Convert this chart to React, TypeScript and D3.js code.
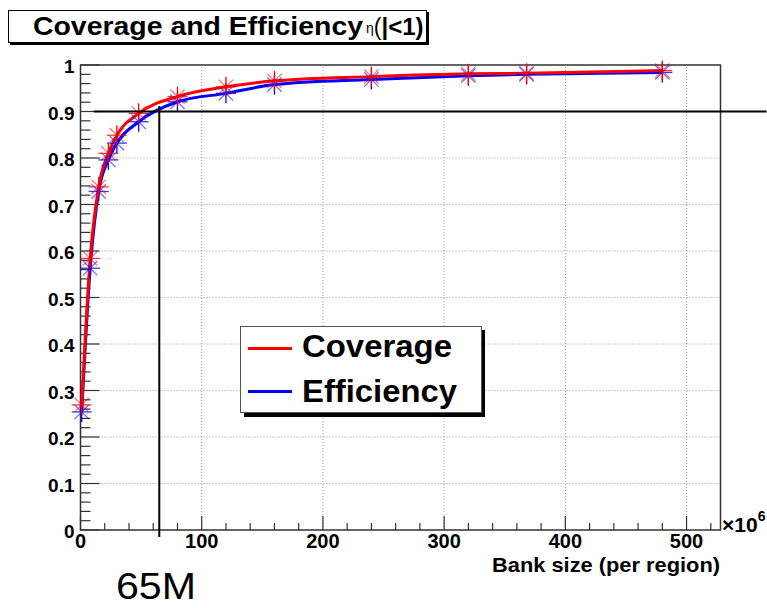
import * as d3 from "d3";

// bank size (x 10^6 patterns per region)
const bankSizes = [1, 8, 15, 23, 30, 48, 80, 120, 160, 240, 320, 368, 480];
const coverage = [0.269, 0.584, 0.738, 0.81, 0.849, 0.896, 0.932, 0.953, 0.966, 0.975, 0.981, 0.982, 0.988];
const efficiency = [0.254, 0.563, 0.728, 0.796, 0.832, 0.878, 0.921, 0.939, 0.958, 0.969, 0.977, 0.98, 0.984];

const xTicks = [0, 100, 200, 300, 400, 500];
const yTicks = [0, 0.1, 0.2, 0.3, 0.4, 0.5, 0.6, 0.7, 0.8, 0.9, 1];
const legendItems = [
  { label: "Coverage", color: "#ff0000" },
  { label: "Efficiency", color: "#0000ff" },
];

// 65M working point markers
const cutX = 65;
const cutY = 0.9;

const W = 767;
const H = 608;
const FONT = "'Liberation Sans', Arial, Helvetica, sans-serif";

const x = d3.scaleLinear().domain([0, 528]).range([80.5, 720.5]);
const y = d3.scaleLinear().domain([0, 1]).range([530, 65]);

function Asterisk({ cx, cy, color }: { cx: number; cy: number; color: string }) {
  const r = 10;
  const d = r * 0.72;
  return (
    <g stroke={color} strokeWidth={1.3}>
      <line x1={cx - r} y1={cy} x2={cx + r} y2={cy} strokeOpacity={0.8} />
      <line x1={cx} y1={cy - r} x2={cx} y2={cy + r} />
      <line x1={cx - d} y1={cy - d} x2={cx + d} y2={cy + d} strokeOpacity={0.55} />
      <line x1={cx - d} y1={cy + d} x2={cx + d} y2={cy - d} strokeOpacity={0.55} />
    </g>
  );
}

export default function App() {
  const line = d3
    .line<number>()
    .x((_, i) => x(bankSizes[i]))
    .y((v) => y(v))
    .curve(d3.curveMonotoneX);

  const xMinor = d3.range(0, 528, 20);
  const yMinor = d3.range(0, 1.0001, 0.02);

  return (
    <svg width={W} height={H} style={{ position: "absolute", left: 0, top: 0, background: "#fff" }} fontFamily={FONT}>
      <rect width={W} height={H} fill="#fff" />

      {/* grid */}
      <g stroke="#999" strokeWidth={1} strokeDasharray="1,2">
        {xTicks.slice(1).map((t) => (
          <line key={"gx" + t} x1={x(t)} x2={x(t)} y1={y(0)} y2={y(1)} />
        ))}
        {yTicks.slice(1, -1).map((t) => (
          <line key={"gy" + t} x1={x(0)} x2={x(528)} y1={y(t)} y2={y(t)} />
        ))}
      </g>

      {/* frame */}
      <rect x={x(0)} y={y(1)} width={x(528) - x(0)} height={y(0) - y(1)} fill="none" stroke="#333" strokeWidth={1.5} />

      {/* ticks */}
      <g stroke="#333" strokeWidth={1.2}>
        {xMinor.map((t) => (
          <line key={"xt" + t} x1={x(t)} x2={x(t)} y1={y(0)} y2={y(0) - (t % 100 === 0 ? 14 : 7)} />
        ))}
        {yMinor.map((t, i) => (
          <line key={"yt" + i} x1={x(0)} x2={x(0) + (i % 5 === 0 ? 19 : 10)} y1={y(t)} y2={y(t)} />
        ))}
      </g>

      {/* tick labels */}
      <g fontWeight="bold" fontSize={20} fill="#000">
        {xTicks.map((t) => (
          <text key={"xl" + t} x={x(t)} y={548} textAnchor="middle">
            {t}
          </text>
        ))}
      </g>
      <g fontWeight="bold" fontSize={19} fill="#000">
        {yTicks.map((t) => (
          <text key={"yl" + t} x={x(0) - 6} y={y(t) + 8} textAnchor="end">
            {d3.format("~g")(t)}
          </text>
        ))}
      </g>
      <text x={722} y={532} fontWeight="bold">
        <tspan fontSize={21}>×10</tspan>
        <tspan fontSize={14} dy={-11}>6</tspan>
      </text>
      <text x={720} y={572} fontSize={21} fontWeight="bold" textAnchor="end" textLength={228} lengthAdjust="spacingAndGlyphs">
        Bank size (per region)
      </text>

      {/* curves */}
      <path d={line(efficiency) ?? ""} fill="none" stroke="#0000ff" strokeWidth={3} />
      <path d={line(coverage) ?? ""} fill="none" stroke="#ff0000" strokeWidth={3} />
      {efficiency.map((v, i) => (
        <Asterisk key={"em" + i} cx={x(bankSizes[i])} cy={y(v)} color="#0000ff" />
      ))}
      {coverage.map((v, i) => (
        <Asterisk key={"cm" + i} cx={x(bankSizes[i])} cy={y(v)} color="#ff0000" />
      ))}

      {/* 65M working point */}
      <line x1={x(11)} x2={x(566)} y1={y(cutY)} y2={y(cutY)} stroke="#000" strokeWidth={2} />
      <line x1={x(cutX)} x2={x(cutX)} y1={y(0.912)} y2={y(-0.015)} stroke="#000" strokeWidth={2} />
      <text x={116} y={599} fontSize={36} fill="#000" textLength={80} lengthAdjust="spacingAndGlyphs">
        65M
      </text>

      {/* legend */}
      <rect x={244} y={330} width={241} height={87} fill="#000" />
      <rect x={240.5} y={326.5} width={241} height={86} fill="#fff" stroke="#555" strokeWidth={1} />
      {legendItems.map((d, i) => (
        <g key={d.label}>
          <line x1={248} x2={292} y1={348.5 + i * 43} y2={348.5 + i * 43} stroke={d.color} strokeWidth={3} />
          <text x={302} y={357 + i * 44.5} fontSize={31} fontWeight="bold" textLength={i === 0 ? 150 : 155} lengthAdjust="spacingAndGlyphs">
            {d.label}
          </text>
        </g>
      ))}

      {/* title */}
      <rect x={10} y={12} width={419} height={33} fill="#000" />
      <rect x={8.5} y={10.5} width={418} height={32} fill="#fff" stroke="#000" strokeWidth={1} />
      <text x={33} y={35} fontSize={25} fontWeight="bold" textLength={330} lengthAdjust="spacingAndGlyphs">
        Coverage and Efficiency
      </text>
      <text x={366} y={35}>
        <tspan fontSize={14} dy={-2}>η</tspan>
        <tspan fontSize={23} dy={2}>(</tspan>
        <tspan fontSize={24} fontWeight="bold">|&lt;1)</tspan>
      </text>
    </svg>
  );
}
